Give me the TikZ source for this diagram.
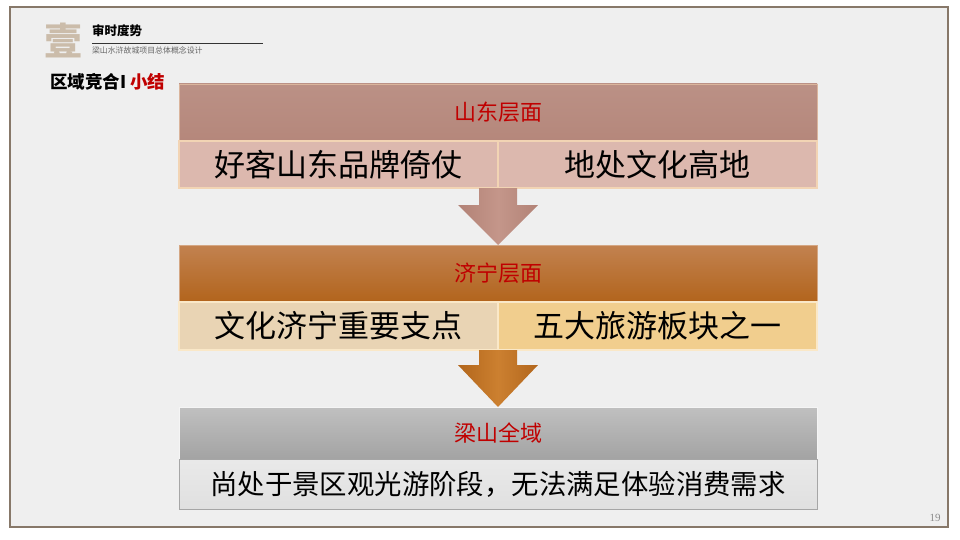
\documentclass[tikz,border=0pt]{standalone}
\usepackage{fontspec}
\setmainfont{Liberation Serif}
\newfontfamily\cjk{Noto Sans CJK SC}
\usetikzlibrary{calc}
\definecolor{hred}{RGB}{192,0,0}
\definecolor{frameC}{RGB}{135,120,105}
\definecolor{bgC}{RGB}{239,239,239}
\definecolor{hOneC}{RGB}{181,135,123}
\definecolor{rOneC}{RGB}{220,184,174}
\definecolor{bOneC}{RGB}{242,212,180}
\definecolor{hTwoTop}{RGB}{194,130,80}
\definecolor{hTwoBot}{RGB}{178,100,28}
\definecolor{rTwoL}{RGB}{233,212,180}
\definecolor{rTwoR}{RGB}{241,206,142}
\definecolor{bTwoC}{RGB}{250,232,200}
\definecolor{hThrTop}{RGB}{192,192,192}
\definecolor{hThrBot}{RGB}{163,163,163}
\definecolor{rThrC}{RGB}{224,224,224}
\definecolor{bThrC}{RGB}{245,245,245}
\definecolor{arOne}{RGB}{178,130,118}
\definecolor{arOneM}{RGB}{196,150,138}
\definecolor{arTwo}{RGB}{178,102,28}
\definecolor{arTwoM}{RGB}{204,128,48}
\definecolor{bigC}{RGB}{203,188,170}
\begin{document}
\begin{tikzpicture}[x=1pt,y=-1pt,
  every node/.style={inner sep=0pt,outer sep=0pt},
  hdrtext/.style={font=\cjk\fontsize{22}{22}\selectfont,text=hred},
  rowtext/.style={font=\cjk\fontsize{31}{31}\selectfont,text=black},
  rowtextsmall/.style={font=\cjk\fontsize{27.4}{27.4}\selectfont,text=black},
  cellline/.style={line width=1.3pt}]
\useasboundingbox (0,0) rectangle (960,540);
\fill[white] (0,0) rectangle (960,540);
\fill[bgC] (10,7) rectangle (948,527);
\draw[frameC,line width=1.5pt] (10,7) rectangle (948,527);
% header
\node[anchor=west,text=bigC,font=\cjk\bfseries\fontsize{38}{38}\selectfont] (big) at (44,40) {壹};
\node[anchor=west,font=\cjk\bfseries\fontsize{12.5}{12.5}\selectfont] (ttl) at (92,31) {审时度势};
\coordinate (lnA) at (92,43);
\coordinate (lnB) at (263,43);
\draw[black!80,line width=0.7pt] (lnA) -- (lnB);
\node[anchor=west,text=black!60,font=\cjk\fontsize{7.9}{7.9}\selectfont] (sub) at (92,50) {梁山水浒故城项目总体概念设计};
\node[anchor=west,font=\cjk\bfseries\fontsize{17.5}{17.5}\selectfont] (sec) at (50,82) {区域竞合I {\color{hred}小结}};
% box 1
\node[anchor=north west,minimum width=638pt,minimum height=57pt,top color=hOneC!92!white,bottom color=hOneC,draw=bOneC!60!hOneC,line width=0.6pt,hdrtext] (h1) at (179,84) {山东层面};
\node[anchor=north west,minimum width=319pt,minimum height=47pt,fill=rOneC,draw=bOneC,cellline,rowtext] (c1a) at (179,141) {好客山东品牌倚仗};
\node[anchor=north west,minimum width=319pt,minimum height=47pt,fill=rOneC,draw=bOneC,cellline,rowtext] (c1b) at (498,141) {地处文化高地};
% box 2
\node[anchor=north west,minimum width=638pt,minimum height=57pt,top color=hTwoTop,bottom color=hTwoBot,draw=hTwoTop!70!white,line width=0.6pt,hdrtext] (h2) at (179,245) {济宁层面};
\node[anchor=north west,minimum width=319pt,minimum height=48pt,fill=rTwoL,draw=bTwoC,cellline,rowtext] (c2a) at (179,302) {文化济宁重要支点};
\node[anchor=north west,minimum width=319pt,minimum height=48pt,fill=rTwoR,draw=bTwoC,cellline,rowtext] (c2b) at (498,302) {五大旅游板块之一};
% box 3
\node[anchor=north west,minimum width=638pt,minimum height=52pt,top color=hThrTop,bottom color=hThrBot,draw=bThrC,line width=0.8pt,hdrtext] (h3) at (179,407) {梁山全域};
\node[anchor=north west,minimum width=638pt,minimum height=50pt,top color=rThrC!70!white,bottom color=rThrC,draw=black!35,line width=0.6pt,rowtextsmall] (c3) at (179,459) {尚处于景区观光游阶段，无法满足体验消费需求};
% arrows
\coordinate (a1s) at (c1a.south east);
\shade[left color=arOne,right color=arOne,middle color=arOneM]
  ($(a1s)+(-19,0)$) -- ($(a1s)+(19,0)$) -- ($(a1s)+(19,17)$) -- ($(a1s)+(40,17)$)
  -- (h2.north) -- ($(a1s)+(-40,17)$) -- ($(a1s)+(-19,17)$) -- cycle;
\coordinate (a2s) at (c2a.south east);
\shade[left color=arTwo,right color=arTwo,middle color=arTwoM]
  ($(a2s)+(-19,0)$) -- ($(a2s)+(19,0)$) -- ($(a2s)+(19,15)$) -- ($(a2s)+(40,15)$)
  -- (h3.north) -- ($(a2s)+(-40,15)$) -- ($(a2s)+(-19,15)$) -- cycle;
% page number
\node[text=black!45,font=\fontsize{11}{11}\selectfont] (pg) at (935,518) {19};
\end{tikzpicture}
\end{document}
